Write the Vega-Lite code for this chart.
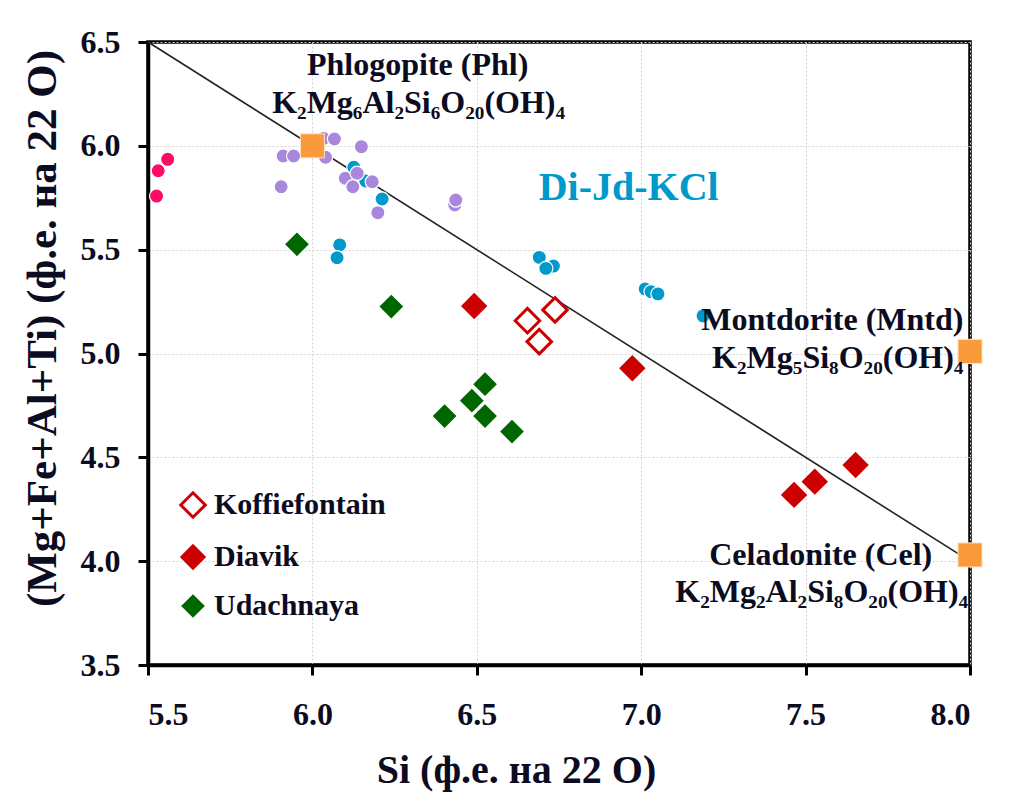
{
  "$schema": "https://vega.github.io/schema/vega-lite/v6.json",
  "width": 822,
  "height": 623,
  "autosize": "none",
  "padding": {"left": 148, "top": 42, "right": 40, "bottom": 143},
  "background": "#ffffff",
  "config": {
    "font": "'Liberation Serif', 'Times New Roman', 'DejaVu Serif', serif",
    "view": {"stroke": "#000000", "strokeWidth": 3.5},
    "axis": {
      "domainColor": "#000000",
      "domainWidth": 3.5,
      "tickColor": "#000000",
      "tickWidth": 3,
      "tickSize": 10,
      "gridColor": "#d4d4d4",
      "gridDash": [2, 2],
      "gridWidth": 1,
      "labelFont": "'Liberation Serif', 'Times New Roman', 'DejaVu Serif', serif",
      "labelFontWeight": "bold",
      "labelFontSize": 32,
      "labelColor": "#0b0b22",
      "titleFont": "'Liberation Serif', 'Times New Roman', 'DejaVu Serif', serif",
      "titleFontWeight": "bold",
      "titleFontSize": 40,
      "titleColor": "#0b0b22"
    },
    "legend": {
      "labelFont": "'Liberation Serif', 'Times New Roman', 'DejaVu Serif', serif"
    }
  },
  "datasets": {
    "refline": [
      {"Si": 5.5, "MgFeAlTi": 6.5},
      {"Si": 8.0, "MgFeAlTi": 4.0}
    ],
    "circles": [
      {"group": "G1", "Si": 5.560, "MgFeAlTi": 5.935},
      {"group": "G1", "Si": 5.531, "MgFeAlTi": 5.880},
      {"group": "G1", "Si": 5.526, "MgFeAlTi": 5.758},
      {"group": "G2", "Si": 5.911, "MgFeAlTi": 5.951},
      {"group": "G2", "Si": 5.943, "MgFeAlTi": 5.951},
      {"group": "G2", "Si": 5.905, "MgFeAlTi": 5.803},
      {"group": "G2", "Si": 6.040, "MgFeAlTi": 5.945},
      {"group": "G2", "Si": 6.034, "MgFeAlTi": 6.036},
      {"group": "G2", "Si": 6.067, "MgFeAlTi": 6.033},
      {"group": "G2", "Si": 6.149, "MgFeAlTi": 5.996},
      {"group": "G3", "Si": 6.126, "MgFeAlTi": 5.897},
      {"group": "G3", "Si": 6.162, "MgFeAlTi": 5.831},
      {"group": "G2", "Si": 6.100, "MgFeAlTi": 5.844},
      {"group": "G2", "Si": 6.136, "MgFeAlTi": 5.868},
      {"group": "G2", "Si": 6.123, "MgFeAlTi": 5.803},
      {"group": "G2", "Si": 6.182, "MgFeAlTi": 5.827},
      {"group": "G2", "Si": 6.199, "MgFeAlTi": 5.678},
      {"group": "G2", "Si": 6.433, "MgFeAlTi": 5.715},
      {"group": "G2", "Si": 6.436, "MgFeAlTi": 5.739},
      {"group": "G3", "Si": 6.212, "MgFeAlTi": 5.744},
      {"group": "G3", "Si": 6.083, "MgFeAlTi": 5.523},
      {"group": "G3", "Si": 6.075, "MgFeAlTi": 5.461},
      {"group": "G3", "Si": 6.690, "MgFeAlTi": 5.463},
      {"group": "G3", "Si": 6.733, "MgFeAlTi": 5.421},
      {"group": "G3", "Si": 6.710, "MgFeAlTi": 5.410},
      {"group": "G3", "Si": 7.012, "MgFeAlTi": 5.311},
      {"group": "G3", "Si": 7.030, "MgFeAlTi": 5.298},
      {"group": "G3", "Si": 7.051, "MgFeAlTi": 5.287},
      {"group": "G3", "Si": 7.188, "MgFeAlTi": 5.181}
    ],
    "inclusions": [
      {"locality": "Koffiefontain", "Si": 6.654, "MgFeAlTi": 5.158},
      {"locality": "Koffiefontain", "Si": 6.690, "MgFeAlTi": 5.057},
      {"locality": "Koffiefontain", "Si": 6.738, "MgFeAlTi": 5.210},
      {"locality": "Diavik", "Si": 6.492, "MgFeAlTi": 5.229},
      {"locality": "Diavik", "Si": 6.973, "MgFeAlTi": 4.929},
      {"locality": "Diavik", "Si": 7.465, "MgFeAlTi": 4.319},
      {"locality": "Diavik", "Si": 7.528, "MgFeAlTi": 4.383},
      {"locality": "Diavik", "Si": 7.652, "MgFeAlTi": 4.463},
      {"locality": "Udachnaya", "Si": 5.953, "MgFeAlTi": 5.526},
      {"locality": "Udachnaya", "Si": 6.240, "MgFeAlTi": 5.226},
      {"locality": "Udachnaya", "Si": 6.402, "MgFeAlTi": 4.699},
      {"locality": "Udachnaya", "Si": 6.485, "MgFeAlTi": 4.773},
      {"locality": "Udachnaya", "Si": 6.525, "MgFeAlTi": 4.852},
      {"locality": "Udachnaya", "Si": 6.525, "MgFeAlTi": 4.699},
      {"locality": "Udachnaya", "Si": 6.607, "MgFeAlTi": 4.624}
    ],
    "endmembers": [
      {"mineral": "Phl", "Si": 6.0, "MgFeAlTi": 6.0},
      {"mineral": "Mntd", "Si": 8.0, "MgFeAlTi": 5.01},
      {"mineral": "Cel", "Si": 8.0, "MgFeAlTi": 4.03}
    ],
    "labelsCentre": [
      {"Si": 6.320, "MgFeAlTi": 6.341, "label": "Phlogopite (Phl)"},
      {"Si": 6.323, "MgFeAlTi": 6.158, "label": "K₂Mg₆Al₂Si₆O₂₀(OH)₄"},
      {"Si": 7.546, "MgFeAlTi": 3.982, "label": "Celadonite (Cel)"},
      {"Si": 7.549, "MgFeAlTi": 3.805, "label": "K₂Mg₂Al₂Si₈O₂₀(OH)₄"}
    ],
    "labelsRight": [
      {"Si": 7.98, "MgFeAlTi": 5.113, "label": "Montdorite (Mntd)"},
      {"Si": 7.98, "MgFeAlTi": 4.930, "label": "K₂Mg₅Si₈O₂₀(OH)₄"}
    ],
    "system": [
      {"Si": 6.962, "MgFeAlTi": 5.739, "label": "Di-Jd-KCl"}
    ]
  },
  "encoding": {
    "x": {
      "field": "Si",
      "type": "quantitative",
      "scale": {"domain": [5.5, 8.0], "nice": false, "zero": false},
      "axis": {
        "values": [5.5, 6.0, 6.5, 7.0, 7.5, 8.0],
        "format": ".1f",
        "labelPadding": 24,
        "title": "Si (ф.е. на 22 О)",
        "titlePadding": 20,
        "titleX": 368,
        "titleAlign": "center"
      }
    },
    "y": {
      "field": "MgFeAlTi",
      "type": "quantitative",
      "scale": {"domain": [3.5, 6.5], "nice": false, "zero": false},
      "axis": {
        "values": [3.5, 4.0, 4.5, 5.0, 5.5, 6.0, 6.5],
        "format": ".1f",
        "labelPadding": 18,
        "title": "(Mg+Fe+Al+Ti) (ф.е. на 22 О)",
        "titleFontSize": 43,
        "titlePadding": 16,
        "titleY": 286,
        "titleAlign": "center"
      }
    }
  },
  "layer": [
    {
      "data": {"name": "refline"},
      "mark": {"type": "line", "color": "#222222", "strokeWidth": 1.6}
    },
    {
      "data": {"name": "circles"},
      "mark": {"type": "point", "shape": "circle", "filled": true, "opacity": 1, "size": 200, "stroke": "#ffffff", "strokeWidth": 1.2},
      "encoding": {
        "color": {
          "field": "group",
          "type": "nominal",
          "scale": {"domain": ["G1", "G2", "G3"], "range": ["#ff0a64", "#a987dc", "#0099cc"]},
          "legend": null
        }
      }
    },
    {
      "data": {"name": "inclusions"},
      "mark": {"type": "point", "shape": "diamond", "filled": true, "opacity": 1, "strokeWidth": 3, "strokeJoin": "miter"},
      "encoding": {
        "fill": {
          "field": "locality",
          "type": "nominal",
          "scale": {"domain": ["Koffiefontain", "Diavik", "Udachnaya"], "range": ["#ffffff", "#cc0000", "#006600"]},
          "legend": {
            "title": null,
            "orient": "none",
            "legendX": 30,
            "legendY": 448,
            "symbolType": "diamond",
            "symbolStrokeWidth": 3,
            "symbolOpacity": 1,
            "labelFontWeight": "bold",
            "labelFontSize": 30,
            "labelColor": "#0b0b22",
            "labelOffset": 6,
            "labelLimit": 400,
            "rowPadding": 15
          }
        },
        "stroke": {
          "field": "locality",
          "type": "nominal",
          "scale": {"domain": ["Koffiefontain", "Diavik", "Udachnaya"], "range": ["#cc0000", "#cc0000", "#006600"]},
          "legend": {
            "title": null,
            "orient": "none",
            "legendX": 30,
            "legendY": 448,
            "symbolType": "diamond",
            "symbolStrokeWidth": 3,
            "symbolOpacity": 1,
            "labelFontWeight": "bold",
            "labelFontSize": 30,
            "labelColor": "#0b0b22",
            "labelOffset": 6,
            "labelLimit": 400,
            "rowPadding": 15
          }
        },
        "size": {
          "field": "locality",
          "type": "nominal",
          "scale": {"domain": ["Koffiefontain", "Diavik", "Udachnaya"], "range": [600, 380, 380]},
          "legend": {
            "title": null,
            "orient": "none",
            "legendX": 30,
            "legendY": 448,
            "symbolType": "diamond",
            "symbolStrokeWidth": 3,
            "symbolOpacity": 1,
            "labelFontWeight": "bold",
            "labelFontSize": 30,
            "labelColor": "#0b0b22",
            "labelOffset": 6,
            "labelLimit": 400,
            "rowPadding": 15
          }
        }
      }
    },
    {
      "data": {"name": "endmembers"},
      "mark": {"type": "point", "shape": "square", "filled": true, "opacity": 1, "size": 580, "color": "#fb9a3a", "stroke": "#fde3c6", "strokeWidth": 1}
    },
    {
      "data": {"name": "labelsCentre"},
      "mark": {"type": "text", "align": "center", "baseline": "alphabetic", "font": "'Liberation Serif', 'Times New Roman', 'DejaVu Serif', serif", "fontWeight": "bold", "fontSize": 32, "color": "#0b0b22"},
      "encoding": {"text": {"field": "label"}}
    },
    {
      "data": {"name": "labelsRight"},
      "mark": {"type": "text", "align": "right", "baseline": "alphabetic", "font": "'Liberation Serif', 'Times New Roman', 'DejaVu Serif', serif", "fontWeight": "bold", "fontSize": 32, "color": "#0b0b22"},
      "encoding": {"text": {"field": "label"}}
    },
    {
      "data": {"name": "system"},
      "mark": {"type": "text", "align": "center", "baseline": "alphabetic", "font": "'Liberation Serif', 'Times New Roman', 'DejaVu Serif', serif", "fontWeight": "bold", "fontSize": 40, "color": "#0099cc"},
      "encoding": {"text": {"field": "label"}}
    }
  ]
}
